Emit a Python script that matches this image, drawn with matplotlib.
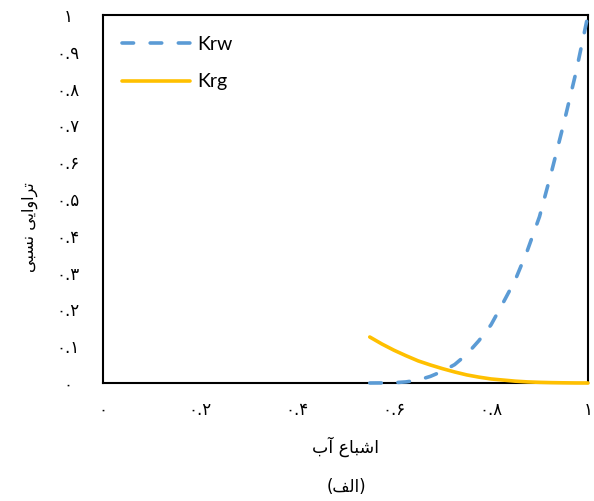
import matplotlib
matplotlib.use("Agg")
import matplotlib.pyplot as plt

# ---- data ----
sw = [0.55, 0.575, 0.60, 0.625, 0.65, 0.675, 0.70, 0.725, 0.75, 0.775,
      0.80, 0.825, 0.85, 0.875, 0.90, 0.925, 0.95, 0.975, 1.00]
krw = [0.000, 0.0002, 0.0008, 0.003, 0.008, 0.018, 0.032, 0.050, 0.078, 0.115,
       0.158, 0.218, 0.280, 0.360, 0.452, 0.575, 0.705, 0.843, 1.000]
krg = [0.125, 0.106, 0.089, 0.074, 0.060, 0.049, 0.039, 0.030, 0.022, 0.016,
       0.011, 0.008, 0.005, 0.003, 0.0018, 0.001, 0.0005, 0.0001, 0.000]

x_ticks = [0, 0.2, 0.4, 0.6, 0.8, 1.0]
x_tick_labels = ["۰", "۰.۲", "۰.۴", "۰.۶", "۰.۸", "۱"]
y_ticks = [0, 0.1, 0.2, 0.3, 0.4, 0.5, 0.6, 0.7, 0.8, 0.9, 1.0]
y_tick_labels = ["۰", "۰.۱", "۰.۲", "۰.۳", "۰.۴", "۰.۵", "۰.۶", "۰.۷", "۰.۸", "۰.۹", "۱"]

series_names = ["Krw", "Krg"]
# Persian text, shaped with presentation forms in visual order
x_label = "\ufe8f\ufe81 \ufec9\ufe8e\ufe92\ufeb7\ufe8d"          # اشباع آب
y_label = "\ufef0\ufe92\ufeb4\ufee7 \ufef0\ufef3\ufe8d\ufeed\ufe8d\ufeae\ufe97"  # تراوایی نسبی
caption = "(\ufed2\ufedf\ufe8d)"                                 # (الف)

fig = plt.figure(figsize=(5.94, 5.01), dpi=100)
ax = fig.add_axes([103/594, 1 - 383/501, 485/594, 368/501])

ax.plot(sw, krw, color="#5B9BD5", lw=2.6, dashes=(3.2, 4.6), dash_capstyle="round",
        label=series_names[0], zorder=3, clip_on=False)
ax.plot(sw, krg, color="#FFC000", lw=2.6, solid_capstyle="round",
        label=series_names[1], zorder=3, clip_on=False)

ax.set_xlim(0, 1)
ax.set_ylim(0, 1)
for s in ax.spines.values():
    s.set_linewidth(1.5)
    s.set_color("black")

ax.set_xticks(x_ticks)
ax.set_xticklabels(x_tick_labels, fontfamily="DejaVu Sans", fontsize=12)
ax.set_yticks(y_ticks)
ax.set_yticklabels(y_tick_labels, fontfamily="DejaVu Sans", fontsize=12, ha="center")
ax.tick_params(axis="x", length=0, pad=13)
ax.tick_params(axis="y", length=0, pad=25)

ax.set_xlabel(x_label, fontfamily="DejaVu Sans", fontsize=12.5, va="center")
ax.xaxis.set_label_coords(0.5, -0.174)
ax.set_ylabel(y_label, fontfamily="DejaVu Sans", fontsize=11.5, va="center")
ax.yaxis.set_label_coords(-0.15, 0.424)

fig.text(346/594, (501-487)/501, caption, fontfamily="DejaVu Sans", fontsize=12,
         ha="center", va="center")

leg = ax.legend(loc="upper left", bbox_to_anchor=(0.008, 0.986), frameon=False,
                prop={"family": "Lato", "size": 14}, handlelength=3.5,
                handletextpad=0.36, labelspacing=1.06, borderaxespad=0.4)

fig.savefig("out.png", dpi=100)
